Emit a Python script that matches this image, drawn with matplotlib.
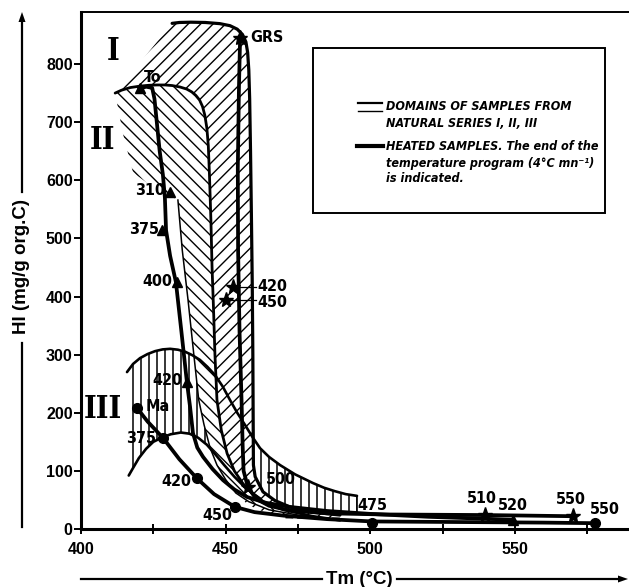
import numpy as np
import matplotlib
matplotlib.use("Agg")
import matplotlib.pyplot as plt
from matplotlib import font_manager as fm
from matplotlib.patches import Polygon, Rectangle
from matplotlib.lines import Line2D
from matplotlib.transforms import IdentityTransform

# ---------------- data ----------------
# Heated samples (Tmax in degC, HI in mg/g org.C)
typeI_x = [455.0, 452.6, 450.1, 457.7, 539.6, 570.0]          # Green River Shale (stars)
typeI_y = [845, 416, 394, 72, 24, 22]
typeI_lab = ["GRS", "420", "450", "500", "510", "550"]

typeII_x = [420.4, 430.8, 428.0, 433.2, 436.6, 549.3]         # Toarcian (triangles)
typeII_y = [758, 580, 514, 425, 253, 15]
typeII_lab = ["To", "310", "375", "400", "420", "520"]

typeIII_x = [419.4, 428.3, 440.1, 453.2, 500.6, 577.7]        # Mahakam (circles)
typeIII_y = [208, 157, 87, 38, 11, 10]
typeIII_lab = ["Ma", "375", "420", "450", "475", "550"]

# evolution paths of the heated samples
pathI_x = [455, 454.6, 454.2, 454.3, 454.8, 455.5, 455.9, 456.2, 457.7, 460.5, 465, 472, 485, 505, 539.6, 555, 570]
pathI_y = [845, 760, 620, 480, 340, 220, 140, 100, 72, 52, 40, 32, 27, 25, 24, 23, 22]
pathII_x = [420.4, 422.5, 424.6, 425.4, 426.2, 427.2, 428.3, 429.0, 429.4, 430.8, 432.8, 434.7, 436.6,
            437.7, 438.7, 440.2, 442.2, 445.5, 449.1, 453, 457.4, 464, 472.2, 485, 500, 520, 549.3]
pathII_y = [758, 761, 759, 740, 700, 650, 610, 570, 514, 470, 425, 340, 253,
            210, 165, 140, 124, 103, 84, 68, 55, 45, 38, 31, 26, 21, 16]
pathIII_x = [419.4, 423, 428.3, 434, 440.1, 446, 453.2, 460, 470, 485, 500.6, 530, 560, 577.7]
pathIII_y = [208, 185, 157, 120, 87, 60, 38, 29, 23, 17, 13, 12, 11, 10]

# natural series domains
d1_edge_x = [431.5, 434, 438, 443, 448, 451.5, 454, 455.8, 457.0, 457.6, 458.0, 458.3, 458.6, 458.9,
             459.2, 459.4, 459.5, 459.6, 460.2, 462.9, 467, 472.2, 480, 489.5]
d1_edge_y = [870, 871.5, 872, 871.5, 869.5, 866, 860, 851, 838, 820, 790, 740, 650, 540,
             420, 300, 200, 110, 90, 64, 49, 38, 29, 24]
d1_back_x = [489.5, 478, 468, 461, 457, 454, 451, 448, 445, 443, 442, 442, 441.5, 440.5, 437, 430, 420, 411.8]
d1_back_y = [17, 19, 25, 33, 45, 62, 85, 120, 170, 250, 400, 550, 650, 720, 750, 758, 757, 750]

d2_edge_x = [411.8, 414, 417, 420.4, 423.5, 426.3, 429, 431.5, 434.2, 436.5, 438.3, 439.7, 441.0, 442.0,
             442.8, 443.5, 444.0, 444.4, 444.9, 445.3, 445.8, 446.3, 447.0, 448.5, 450.5, 453.0, 456.0,
             459.0, 463.6, 470.0, 480.0, 489.5]
d2_edge_y = [750, 755, 759.5, 762, 763.5, 764, 764, 763, 760.5, 757, 752, 746, 738, 727,
             712, 690, 660, 610, 532, 450, 380, 300, 222, 170, 130, 100, 78,
             62, 45, 33, 22, 15]
d2_left_x = [489.5, 475, 465, 458, 453.5, 450, 447, 444.6, 442.5, 440.7, 439, 437, 435, 433.5]
d2_left_y = [15, 24, 33, 47, 62, 85, 110, 140, 180, 222, 300, 394, 480, 566]
d2_open_x = [433.5, 425, 418, 414.5, 411.8]
d2_open_y = [566, 588, 613, 680, 750]

d3_top_x = [415.9, 418, 420.4, 423, 425.6, 428.2, 430.8, 433.5, 436, 438.5, 441.1, 443.7, 446.3, 449,
            451.5, 454, 456.7, 459.3, 461.9, 465, 468.8, 474, 480.2, 484, 487.8, 491.5, 495.4]
d3_top_y = [270, 284, 294, 301, 306, 309, 310, 308.5, 305, 299, 291, 279, 265, 245,
            222, 200, 179, 158, 139, 124, 110, 94, 79, 71, 65, 60, 57]
d3_base_x = [495.4, 495.4, 485, 472, 464]
d3_base_y = [57, 26, 24, 28, 38]
d3_low_x = [416.5, 418, 420, 422.5, 425, 428.3, 431, 434.5, 437.5, 440.5, 443.5, 446.5, 449.5, 453, 457, 462]
d3_low_y = [92, 105, 122, 138, 150, 158, 163, 166, 164, 157, 145, 128, 110, 90, 70, 52]

x_ticks = [400, 450, 500, 550]
y_ticks = [0, 100, 200, 300, 400, 500, 600, 700, 800]


# ---------------- fonts ----------------
def condensed_family(candidates, weight, style):
    """Return the first family that has a narrow face with this weight/style."""
    for fam in candidates:
        try:
            path = fm.findfont(fm.FontProperties(family=fam, weight=weight, style=style,
                                                 stretch="condensed"), fallback_to_default=False)
        except Exception:
            continue
        if "ondensed" in path or "Narrow" in path:
            return fam
    return None


narrow_italic = condensed_family(["Liberation Sans Narrow", "DejaVu Sans"], "bold", "italic")
narrow_bold = condensed_family(["Liberation Sans Narrow", "DejaVu Sans"], "bold", "normal")
narrow_serif = condensed_family(["DejaVu Serif"], "bold", "normal")

if narrow_italic:
    leg_font = dict(family=[narrow_italic, "DejaVu Sans"], weight="bold", style="italic",
                    stretch="condensed", size=9.0)
else:
    leg_font = dict(family=["Liberation Sans", "DejaVu Sans"], weight="bold", style="italic", size=8.2)
if narrow_bold:
    lab_font = dict(family=[narrow_bold, "DejaVu Sans"], weight="bold", stretch="condensed", size=11.5)
else:
    lab_font = dict(family=["Liberation Sans", "DejaVu Sans"], weight="bold", size=11)
if narrow_serif:
    roman = dict(family=[narrow_serif], weight="bold", stretch="condensed", size=22)
else:
    roman = dict(family=["Liberation Serif", "DejaVu Serif"], weight="bold", size=24)
num_font = dict(family=["Liberation Sans", "DejaVu Sans"], weight="bold", size=11)

# ---------------- figure ----------------
W, H = 629, 587
fig = plt.figure(figsize=(W / 100, H / 100), dpi=100)
ax_l, ax_b, ax_w, ax_h = 81, 58, 548, 517
ax = fig.add_axes([ax_l / W, ax_b / H, ax_w / W, ax_h / H])
ax.set_xlim(400, 400 + ax_w / 2.893)
ax.set_ylim(0, ax_h / 0.5812)
ax.set_autoscale_on(False)


def fill_domain(xs, ys, z):
    poly = Polygon(np.column_stack([xs, ys]), closed=True, facecolor="white",
                   edgecolor="none", zorder=z)
    ax.add_patch(poly)
    return poly


def hatch(poly, angle, spacing, lw, z):
    th = np.deg2rad(angle)
    d = np.array([np.cos(th), np.sin(th)])
    n = np.array([-np.sin(th), np.cos(th)])
    corners = np.array([[ax_l, ax_b], [ax_l + ax_w, ax_b], [ax_l, ax_b + ax_h], [ax_l + ax_w, ax_b + ax_h]])
    proj = corners @ n
    L = 2000
    for c in np.arange(proj.min(), proj.max(), spacing):
        p0 = c * n - L * d
        p1 = c * n + L * d
        ln = Line2D([p0[0], p1[0]], [p0[1], p1[1]], transform=IdentityTransform(),
                    color="black", lw=lw, zorder=z)
        ln.set_clip_path(poly)
        ax.add_artist(ln)


# domain III (vertical hatching)
d3 = fill_domain(d3_top_x + d3_base_x + d3_low_x[::-1], d3_top_y + d3_base_y + d3_low_y[::-1], 1)
hatch(d3, 90, 8.0, 1.1, 1.1)

# domain I ("/" hatching)
d1 = fill_domain([411.8] + d1_edge_x + d1_back_x, [750] + d1_edge_y + d1_back_y, 2)
hatch(d1, 45, 8.8, 1.0, 2.1)
ax.plot(d1_edge_x, d1_edge_y, color="black", lw=2.3, zorder=2.2, solid_capstyle="round")
ax.plot([489.5, 470], [18, 20], color="black", lw=1.4, ls=(0, (4, 2)), zorder=2.2)

# domain II ("\" hatching)
d2 = fill_domain(d2_edge_x + d2_left_x + d2_open_x, d2_edge_y + d2_left_y + d2_open_y, 3)
hatch(d2, -45, 8.8, 1.0, 3.1)
ax.plot(d2_edge_x, d2_edge_y, color="black", lw=2.0, zorder=3.2, solid_capstyle="round")
ax.plot(d2_left_x, d2_left_y, color="black", lw=1.1, zorder=3.2)

# domain III outlines
ax.plot(d3_top_x, d3_top_y, color="black", lw=1.9, zorder=4, solid_capstyle="round")
ax.plot(d3_base_x[:2], d3_base_y[:2], color="black", lw=1.2, zorder=4)
ax.plot(d3_low_x, d3_low_y, color="black", lw=1.9, zorder=4, solid_capstyle="round")

# heated sample paths and end-of-program points
for px, py in [(pathI_x, pathI_y), (pathII_x, pathII_y), (pathIII_x, pathIII_y)]:
    ax.plot(px, py, color="black", lw=2.7, zorder=5, solid_capstyle="round", solid_joinstyle="round")
ax.plot(typeI_x, typeI_y, ls="none", marker="*", ms=11, color="black", zorder=6)
ax.plot(typeII_x, typeII_y, ls="none", marker="^", ms=6.5, color="black", zorder=6)
ax.plot(typeIII_x, typeIII_y, ls="none", marker="o", ms=7, color="black", zorder=6)

# point labels
labels = [
    ("To", 424.9, 776, "center"), ("310", 423.9, 583, "center"), ("375", 421.8, 516, "center"),
    ("400", 426.3, 425, "center"), ("420", 429.7, 256, "center"), ("520", 549.3, 41, "center"),
    ("GRS", 458.6, 846, "left"), ("420", 461.0, 418, "left"), ("450", 461.0, 390, "left"),
    ("500", 469.1, 86, "center"), ("510", 538.6, 52, "center"), ("550", 569.4, 50, "center"),
    ("Ma", 426.6, 210, "center"), ("375", 420.7, 155, "center"), ("420", 432.8, 81, "center"),
    ("450", 447.0, 24, "center"), ("475", 500.6, 40, "center"), ("550", 581.1, 34, "center"),
]
for t, x, y, ha in labels:
    ax.text(x, y, t, ha=ha, va="center", zorder=7, **lab_font)
# leader lines for the GRS points
ax.plot([454.3, 460.6], [416, 416], color="black", lw=0.9, zorder=6)
ax.plot([451.5, 460.6], [394, 394], color="black", lw=0.9, zorder=6)

# series numerals
ax.text(411.1, 821, "I", ha="center", va="center", zorder=7, **roman)
ax.text(407.3, 668, "II", ha="center", va="center", zorder=7, **roman)
ax.text(407.6, 205, "III", ha="center", va="center", zorder=7, **roman)

# ---------------- axes styling ----------------
ax.spines["right"].set_visible(False)
ax.spines["left"].set_linewidth(2.2)
ax.spines["bottom"].set_linewidth(2.2)
ax.spines["top"].set_linewidth(1.4)
ax.set_xticks(x_ticks)
ax.set_xticks([425, 475, 525, 575], minor=True)
ax.set_yticks(y_ticks)
ax.tick_params(axis="x", which="both", direction="inout", length=7, width=1.4, pad=6)
ax.tick_params(axis="y", which="both", direction="out", length=5, width=1.4, pad=1)
for lab in ax.get_xticklabels() + ax.get_yticklabels():
    lab.set_fontfamily(num_font["family"])
    lab.set_fontweight("bold")
    lab.set_fontsize(11.5)


def fx(px):
    return px / W


def fy(py):
    return 1 - py / H


# axis titles with arrows
title_font = dict(num_font, size=13.5)
fig.text(fx(22), fy(267), "HI (mg/g org.C)", rotation=90, ha="center", va="center", **title_font)
fig.add_artist(Line2D([fx(22), fx(22)], [fy(527), fy(343)], color="black", lw=1.6, transform=fig.transFigure))
fig.add_artist(Line2D([fx(22), fx(22)], [fy(192), fy(20)], color="black", lw=1.6, transform=fig.transFigure))
fig.add_artist(Polygon([[fx(18.5), fy(22)], [fx(25.5), fy(22)], [fx(22), fy(12)]], closed=True,
                       facecolor="black", edgecolor="none", transform=fig.transFigure))

fig.text(fx(359), fy(579), "Tm (°C)", ha="center", va="center", **title_font)
fig.add_artist(Line2D([fx(81), fx(322)], [fy(579), fy(579)], color="black", lw=1.6, transform=fig.transFigure))
fig.add_artist(Line2D([fx(397), fx(620)], [fy(579), fy(579)], color="black", lw=1.6, transform=fig.transFigure))
fig.add_artist(Polygon([[fx(618), fy(575.5)], [fx(618), fy(582.5)], [fx(628), fy(579)]], closed=True,
                       facecolor="black", edgecolor="none", transform=fig.transFigure))

# ---------------- legend box ----------------
fig.add_artist(Rectangle((fx(313), fy(213)), fx(605) - fx(313), fy(48) - fy(213), fill=False,
                         edgecolor="black", lw=1.4, transform=fig.transFigure))
icon = Rectangle((fx(358), fy(111)), fx(382) - fx(358), fy(103) - fy(111), facecolor="white",
                 edgecolor="none", hatch="/////", transform=fig.transFigure)
fig.add_artist(icon)
fig.add_artist(Line2D([fx(358), fx(382)], [fy(103), fy(103)], color="black", lw=1.6, transform=fig.transFigure))
fig.add_artist(Line2D([fx(358), fx(382)], [fy(111), fy(111)], color="black", lw=1.0, transform=fig.transFigure))
fig.add_artist(Line2D([fx(357), fx(383)], [fy(146), fy(146)], color="black", lw=3.0, transform=fig.transFigure))

leg_lines = [
    (107, "DOMAINS OF SAMPLES FROM"),
    (124, "NATURAL SERIES I, II, III"),
    (146, "HEATED SAMPLES. The end of the"),
    (163, "temperature program (4°C mn⁻¹)"),
    (179, "is indicated."),
]
for yy, t in leg_lines:
    fig.text(fx(386), fy(yy), t, ha="left", va="center", **leg_font)

fig.savefig("out.png", dpi=100)
